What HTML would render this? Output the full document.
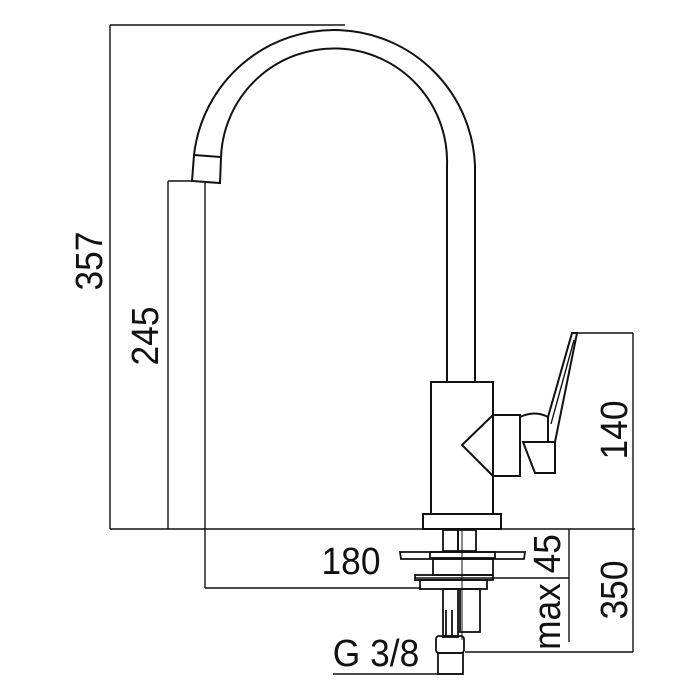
<!DOCTYPE html>
<html><head><style>
html,body{margin:0;padding:0;background:#fff;width:700px;height:700px;overflow:hidden}
svg{display:block}
text{font-family:"Liberation Sans",sans-serif;font-size:38px;fill:#111;text-anchor:middle}
</style></head><body>
<svg width="700" height="700" viewBox="0 0 700 700" fill="none" stroke="#111" stroke-width="1.4">
<line x1="110" y1="25" x2="345" y2="25"/>
<line x1="110" y1="25" x2="110" y2="529"/>
<path d="M194 155 A141 141 0 0 1 475 166 L475 382" stroke-width="2"/>
<path d="M221 157 A113 113 0 0 1 447 166 L447 382" stroke-width="2"/>
<path d="M194 155 L221 157 L220 183 L192 181 Z" stroke-width="2"/>
<line x1="168" y1="181" x2="192" y2="181"/>
<line x1="168" y1="181" x2="168" y2="529"/>
<line x1="205" y1="183" x2="205" y2="588"/>
<rect x="431" y="382" width="62" height="132" stroke-width="2"/>
<rect x="423" y="514" width="78" height="15" stroke-width="2"/>
<path d="M493 415 L462 445 L493 476" stroke-width="2" fill="#fff"/>
<rect x="493" y="415" width="27" height="61" stroke-width="2" fill="#fff"/>
<path d="M520 417 Q535 410 548 417 L548 442 L523 442" stroke-width="2"/>
<path d="M523 442 L555 442 L555 473 L535 473 Z" stroke-width="2" fill="#fff"/>
<path d="M548 417 L572 333 L577 333 L555 442" stroke-width="2"/>
<path d="M551 424 L574 340" stroke-width="1.4"/>
<line x1="110" y1="529" x2="635" y2="529"/>
<line x1="575" y1="333" x2="633" y2="333"/>
<line x1="633" y1="333" x2="633" y2="652"/>
<line x1="569" y1="529" x2="569" y2="642"/>
<line x1="415" y1="578" x2="569" y2="578"/>
<line x1="205" y1="588" x2="420" y2="588"/>
<line x1="465" y1="652" x2="633" y2="652"/>
<g stroke-width="1.8">
<rect x="443" y="530" width="15" height="21"/>
<rect x="458" y="530" width="18" height="21"/>
<path d="M400 552 L525 552 L524 559 L513 559 L401 559 Z"/>
<rect x="430" y="552" width="65" height="6"/>
<rect x="433" y="559" width="60" height="16"/>
<rect x="415" y="575" width="78" height="5"/>
<rect x="420" y="580" width="67" height="9"/>
<rect x="443" y="589" width="15" height="48"/>
<rect x="460" y="589" width="20" height="43"/>
<line x1="446" y1="610" x2="446" y2="636"/>
<line x1="452" y1="610" x2="452" y2="636"/>
<rect x="436" y="636" width="28" height="17" rx="3"/>
<rect x="438" y="653" width="25" height="21"/>
</g>
<line x1="462" y1="528" x2="462" y2="640" stroke-width="1"/>
<line x1="333" y1="674" x2="463" y2="674"/>
<g stroke="none">
<text transform="translate(102 261) rotate(-90) scale(0.93 1)">357</text>
<text transform="translate(158 336) rotate(-90) scale(0.93 1)">245</text>
<text transform="translate(627 430) rotate(-90) scale(0.93 1)">140</text>
<text transform="translate(627 590) rotate(-90) scale(0.93 1)">350</text>
<text transform="translate(560 592) rotate(-90) scale(0.93 1)">max 45</text>
<text transform="translate(351 574) scale(0.93 1)">180</text>
<text transform="translate(376 666) scale(0.93 1)">G 3/8</text>
</g>
</svg>
</body></html>
